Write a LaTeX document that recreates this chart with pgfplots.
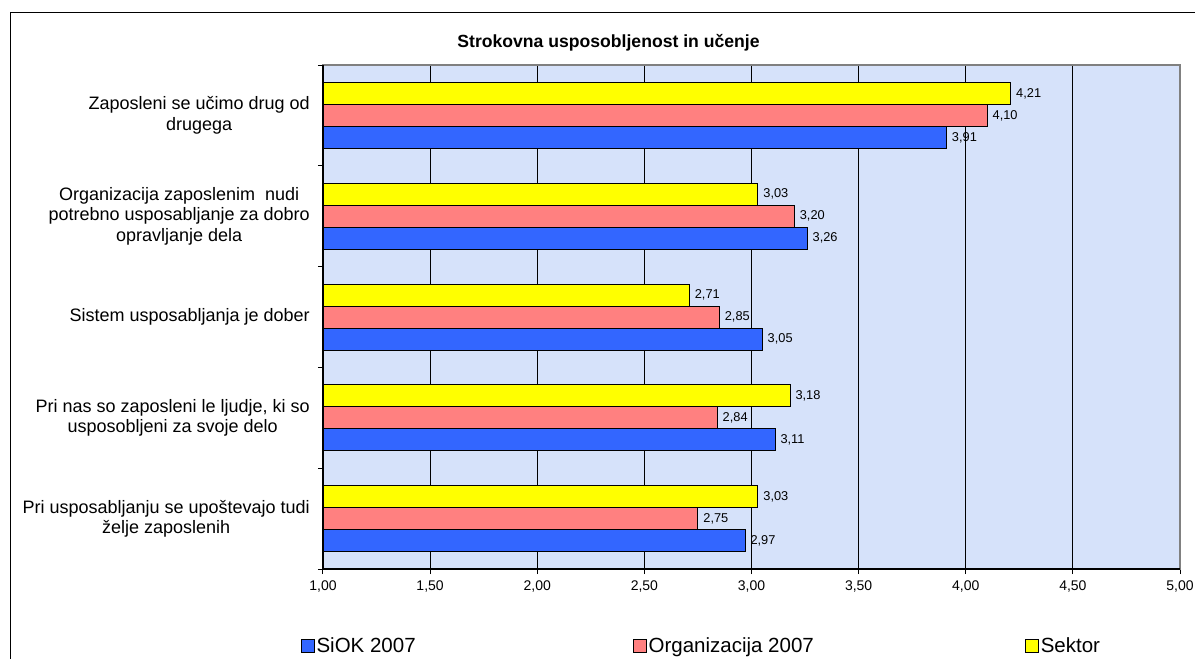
\documentclass[border=0pt]{standalone}
\usepackage{fontspec}
\setmainfont{Liberation Sans}
\usepackage{pgfplots}
\pgfplotsset{compat=1.18}

\definecolor{siok}{HTML}{3366FF}
\definecolor{org}{HTML}{FF8080}
\definecolor{sektor}{HTML}{FFFF00}
\definecolor{plotbg}{HTML}{D6E2FA}
\definecolor{frame}{HTML}{808080}

\begin{document}
\begin{tikzpicture}[x=1pt,y=1pt]
\useasboundingbox (0,0) rectangle (1195,-659);
\clip (0,0) rectangle (1195,-659);

% outer chart frame
\draw[line width=1.3pt] (10.5,-12.5) rectangle (1400,-900);

\node[font=\bfseries\fontsize{17.6}{20}\selectfont, anchor=base] at (608.5,-47) {Strokovna usposobljenost in učenje};

\begin{axis}[
  name=ax,
  at={(323pt,-569pt)}, anchor=south west,
  width=857pt, height=504pt, scale only axis,
  xmin=1, xmax=5, ymin=-0.5, ymax=4.5,
  xbar=0pt, bar width=22pt,
  axis background/.style={fill=plotbg},
  axis line style={draw=frame, line width=1.4pt},
  tick align=outside, tick pos=left,
  major tick length=5pt,
  tick style={black, line width=1pt},
  xtick={1,1.5,...,5},
  xmajorgrids, grid style={black, line width=0.9pt},
  /pgf/number format/assume math mode=true,
  /pgf/number format/use comma,
  /pgf/number format/fixed,
  /pgf/number format/fixed zerofill,
  /pgf/number format/precision=2,
  xticklabel style={font=\fontsize{14}{16}\selectfont, inner sep=0pt, yshift=-7pt},
  ytick={0,1,2,3,4},
  yticklabels={
    {Pri usposabljanju se upoštevajo tudi\\želje zaposlenih},
    {Pri nas so zaposleni le ljudje, ki so\\usposobljeni za svoje delo},
    {Sistem usposabljanja je dober},
    {Organizacija zaposlenim\ \ nudi\\potrebno usposabljanje za dobro\\opravljanje dela},
    {Zaposleni se učimo drug od\\drugega}},
  yticklabel style={font=\fontsize{18}{20.5}\selectfont, align=center, anchor=east, inner sep=0pt, xshift=-8pt},
  ytick style={draw=none},
  extra y ticks={-0.5,0.5,1.5,2.5,3.5,4.5},
  extra y tick labels={},
  extra y tick style={grid=none, ytick style={draw=black}},
  point meta=x,
  nodes near coords,
  nodes near coords style={font=\fontsize{12.8}{14}\selectfont, anchor=west, inner sep=0pt, xshift=5pt, black},
  legend columns=3,
  legend style={at={(-0.0257,-0.1528)}, anchor=west, draw=none, fill=none, inner sep=0pt,
    font=\fontsize{20.5}{24}\selectfont,
    nodes={inner sep=1.5pt},
    /tikz/column 2/.style={column sep=216pt},
    /tikz/column 4/.style={column sep=210pt}},
  legend image code/.code={\draw[#1, draw=black, line width=0.9pt] (0pt,-6.5pt) rectangle (13pt,6.5pt);},
]
\addplot[draw=black, line width=1pt, fill=siok] coordinates {(2.97,0) (3.11,1) (3.05,2) (3.26,3) (3.91,4)};
\addplot[draw=black, line width=1pt, fill=org] coordinates {(2.75,0) (2.84,1) (2.85,2) (3.20,3) (4.10,4)};
\addplot[draw=black, line width=1pt, fill=sektor] coordinates {(3.03,0) (3.18,1) (2.71,2) (3.03,3) (4.21,4)};
\legend{SiOK 2007, Organizacija 2007, Sektor}
\end{axis}

% left and bottom axis lines
\draw[black, line width=1.1pt] (ax.north west) -- (ax.south west) -- (ax.south east);
\end{tikzpicture}
\end{document}
